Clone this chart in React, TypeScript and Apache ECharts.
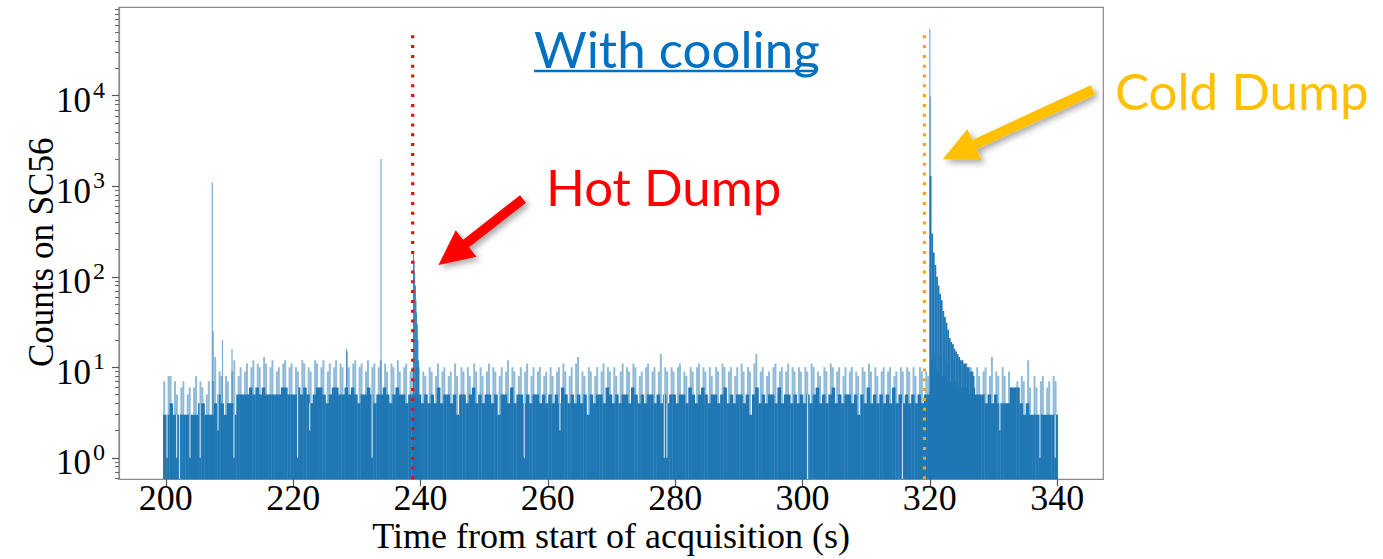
import React, { useEffect, useRef } from "react";
import * as echarts from "echarts";

// ---------- data ----------
// Background histogram, summarised in 0.5 s windows starting at T0:
// lo = level of the solid (dense) fill, hi = top of the thin light fringe (counts)
const T0 = 199.6;
const STEP = 0.5;

const lo200 = [3,3,4,3,3,3,3,3,3,3, 3,4,4,3,3,3,4,5,4,3, 4,4,3,5,5,5,5,6,5,6, 5,6,5,5,5,5,5,6,6,5];
const hi200 = [7,8,8,7,5,6,7,5,6,6, 8,7,6,5,7,7,13,9,8,8, 7,9,12,8,10,9,11,10,12,11, 10,13,11,10,12,9,10,11,12,10];
const lo220 = [5,5,6,5,6,5,4,5,6,6, 5,4,5,6,6,5,5,6,5,6, 5,4,5,5,6,5,4,5,5,6, 5,4,5,6,5,5,4,5,5,5];
const hi220 = [11,10,9,12,11,10,9,12,11,10, 12,9,11,10,12,11,10,15,10,11, 12,10,11,9,12,10,11,10,12,11, 9,11,10,12,9,10,11,9,10,10];
const lo240 = [5,4,5,4,5,4,6,4,5,5, 4,5,3,5,5,4,5,6,4,5, 4,5,5,4,5,3,5,5,4,6, 4,5,5,4,5,4,5,5,4,5];
const hi240 = [10,9,8,10,9,8,11,9,10,8, 9,11,8,10,9,10,8,11,9,10, 8,9,11,10,9,8,10,9,12,10, 9,8,10,9,11,8,10,9,10,8];
const lo260 = [4,5,4,5,4,6,5,4,5,4, 5,4,5,3,5,4,5,5,4,6, 5,4,5,4,5,5,4,6,5,4, 5,4,5,5,4,5,4,5,4,5];
const hi260 = [9,10,8,9,10,11,9,8,10,11, 13,9,8,10,9,8,10,9,11,10, 9,10,8,9,11,10,9,11,10,8, 9,10,11,9,10,9,14,10,9,10];
const lo280 = [5,4,5,5,4,6,5,4,5,6, 5,4,5,5,4,5,6,4,5,4, 5,5,4,5,3,5,6,4,5,4, 5,5,4,6,4,5,5,4,5,4];
const hi280 = [9,10,11,9,8,10,9,10,11,10, 9,10,8,10,9,11,10,9,10,8, 10,11,9,10,9,11,14,9,10,8, 9,10,11,9,10,9,11,10,9,10];
const lo300 = [5,4,5,4,5,6,4,5,4,5, 6,4,5,4,5,5,4,5,3,5, 4,6,4,5,4,5,4,5,4,6, 4,5,4,5,4,5,4,5,4,5];
const hi300 = [9,10,9,11,10,9,8,10,9,11, 10,9,10,8,10,9,10,9,8,10, 9,11,9,10,8,9,10,9,10,8, 9,10,9,10,9,10,8,10,9,9];
const lo320 = [5,12,10,9,8,8,7,7,7,6, 6,6,6,5,6,5,5,5,4,5, 4,5,4,4,4,4,6,6,6,4, 3,4,3,3,3,3,3,3,3,3,3];
const hi320 = [8,15,14,13,12,12,11,11,12,12, 11,10,11,10,9,10,8,9,10,8, 13,9,8,10,8,9,6,6,7,8, 7,12,6,8,6,7,8,6,7,8,7];

// Hot dump (0.1 s bins) and cold dump (0.25 s bins)
const HOT_START = 238.85;
const HOT_BIN = 0.1;
const hotDump = [180, 150, 110, 80, 55, 40, 30, 20, 12];
const COLD_START = 320.0;
const COLD_BIN = 0.25;
const coldDump = [1300, 300, 185, 135, 100, 80, 65, 55, 42, 36, 31, 26, 21, 19, 18, 16, 15, 14, 13, 12, 12, 11, 11, 10, 10, 9, 9, 8];

// isolated single-bin spikes [time, counts]
const spikeTimes = [207.3, 207.45, 208.9, 210.4, 228.4, 233.8, 320.0, 320.06];
const spikeCounts = [1100, 25, 20, 16, 16, 2000, 55000, 9800];

// near-empty bins inside the dense fill [time, counts]
const dipTimes = [200.2, 201.7, 202.15, 203.8, 205.4, 208.2, 210.7, 220.7, 222.6, 232.4, 256.3, 261.9, 278.3, 278.7, 300.8, 315.7, 331.0, 337.3, 339.7];
const dipCounts = [1, 1, 0, 1, 1, 2, 1, 1, 2, 1, 1, 2, 1, 1, 0, 0, 2, 1, 1];

// dump markers
const HOT_T = 238.78;
const COLD_T = 319.15;

// axes
const X_TICKS = [200, 220, 240, 260, 280, 300, 320, 340];
const Y_DECADES = [0, 1, 2, 3, 4];
const Y_MINOR_COUNTS = [0.6, 0.7, 0.8, 0.9,
  2, 3, 4, 5, 6, 7, 8, 9,
  20, 30, 40, 50, 60, 70, 80, 90,
  200, 300, 400, 500, 600, 700, 800, 900,
  2000, 3000, 4000, 5000, 6000, 7000, 8000, 9000,
  20000, 30000, 40000, 50000, 60000, 70000, 80000, 90000];
const X_MIN = 192.65;
const X_MAX = 347.25;
const Y_MIN = -0.237; // log10 of counts
const Y_MAX = 4.977;

// ---------- helpers ----------
const DARK = "#1f77b4";
const LIGHT = "rgba(31,119,180,0.5)";
const lg = (c: number) => Math.log10(c);

const loAll = [...lo200, ...lo220, ...lo240, ...lo260, ...lo280, ...lo300, ...lo320];
const hiAll = [...hi200, ...hi220, ...hi240, ...hi260, ...hi280, ...hi300, ...hi320];
const windows = loAll.map((lo, i) => [T0 + i * STEP, lo, hiAll[i]]);
const loAt = (t: number) => loAll[Math.max(0, Math.min(loAll.length - 1, Math.floor((t - T0) / STEP)))];

const hotBins = hotDump.map((c, i) => [HOT_START + i * HOT_BIN, c, HOT_BIN]);
const coldBins = coldDump.map((c, i) => [COLD_START + i * COLD_BIN, c, COLD_BIN]);
const spikes = spikeTimes.map((t, i) => [t, spikeCounts[i]]);
const dips = dipTimes.map((t, i) => [t, dipCounts[i], loAt(t)]);

function arrowPoints(tail: number[], tip: number[], shaftHalf: number, headHalf: number, headLen: number) {
  const dx = tip[0] - tail[0], dy = tip[1] - tail[1];
  const len = Math.hypot(dx, dy);
  const ux = dx / len, uy = dy / len;
  const nx = -uy, ny = ux;
  const bx = tip[0] - ux * headLen, by = tip[1] - uy * headLen;
  return [
    [tail[0] + nx * shaftHalf, tail[1] + ny * shaftHalf],
    [bx + nx * shaftHalf, by + ny * shaftHalf],
    [bx + nx * headHalf, by + ny * headHalf],
    [tip[0], tip[1]],
    [bx - nx * headHalf, by - ny * headHalf],
    [bx - nx * shaftHalf, by - ny * shaftHalf],
    [tail[0] - nx * shaftHalf, tail[1] - ny * shaftHalf],
  ];
}

const SERIF = "'Liberation Serif', 'Times New Roman', serif";
const SANS = "Lato, 'Open Sans', sans-serif";

export default function App() {
  const ref = useRef<HTMLDivElement>(null);

  useEffect(() => {
    if (!ref.current) return;
    const chart = echarts.init(ref.current, undefined, { renderer: "svg" });
    const yTop = Y_MIN + 0.95 * (Y_MAX - Y_MIN);

    const option: any = {
      animation: false,
      grid: {
        left: 119, right: 279.7, top: 7.3, bottom: 79.7,
        outerBoundsMode: "none", containLabel: false,
        show: true, borderColor: "#8a8a8a", borderWidth: 1.2,
      },
      xAxis: {
        type: "value", min: X_MIN, max: X_MAX,
        splitLine: { show: false },
        axisLine: { show: true, onZero: false, lineStyle: { color: "#8a8a8a", width: 1.2 } },
        axisTick: { show: true, customValues: X_TICKS, length: 7, lineStyle: { color: "#555", width: 1.2 } },
        axisLabel: { customValues: X_TICKS, fontFamily: SERIF, fontSize: 36, color: "#000", margin: 1 },
        name: "Time from start of acquisition (s)",
        nameLocation: "middle", nameGap: 39, nameMoveOverlap: false,
        nameTextStyle: { fontFamily: SERIF, fontSize: 36, color: "#000" },
      },
      yAxis: [
        {
          type: "value", min: Y_MIN, max: Y_MAX,
          splitLine: { show: false },
          axisLine: { show: true, onZero: false, lineStyle: { color: "#8a8a8a", width: 1.2 } },
          axisTick: { show: true, customValues: Y_DECADES, length: 7, lineStyle: { color: "#555", width: 1.2 } },
          axisLabel: {
            customValues: Y_DECADES, margin: 14, padding: [10, 0, 0, 0],
            formatter: (v: number) => `{b|10}{s|${Math.round(v)}}`,
            rich: {
              b: { fontFamily: SERIF, fontSize: 35, color: "#000", lineHeight: 46 },
              s: { fontFamily: SERIF, fontSize: 24, color: "#000", lineHeight: 24, verticalAlign: "top", padding: [0, 0, 0, 2] },
            },
          },
          name: "Counts on SC56",
          nameLocation: "middle", nameGap: 60, nameRotate: 90, nameMoveOverlap: false,
          nameTextStyle: { fontFamily: SERIF, fontSize: 35, color: "#000", padding: [0, 18, 0, 0] },
        },
        {
          type: "value", min: Y_MIN, max: Y_MAX, position: "left",
          splitLine: { show: false },
          axisLine: { show: false, onZero: false },
          axisLabel: { show: false },
          axisTick: { show: true, customValues: Y_MINOR_COUNTS.map(lg), length: 4, lineStyle: { color: "#666", width: 1 } },
        },
      ],
      series: [
        {
          type: "custom", clip: true, z: 2,
          data: windows,
          encode: { x: 0, y: 1 },
          renderItem: (p: any, api: any) => {
            const t = api.value(0), lo = api.value(1), hi = api.value(2);
            const pB = api.coord([t, Y_MIN]);
            const pE = api.coord([t + STEP, Y_MIN]);
            const yLo = api.coord([t, lg(lo)])[1];
            const yHi = api.coord([t, lg(hi)])[1];
            const w = pE[0] - pB[0];
            const lw = w * 0.62;
            const lx = p.dataIndex % 2 === 0 ? pB[0] : pB[0] + w - lw;
            return {
              type: "group",
              children: [
                { type: "rect", shape: { x: lx, y: yHi, width: lw, height: yLo - yHi + 0.5 }, style: { fill: LIGHT } },
                { type: "rect", shape: { x: pB[0] - 0.2, y: yLo, width: w + 0.4, height: pB[1] - yLo }, style: { fill: DARK } },
              ],
            };
          },
        },
        {
          type: "custom", clip: true, z: 3,
          data: dips,
          encode: { x: 0, y: 1 },
          renderItem: (_p: any, api: any) => {
            const t = api.value(0), c = api.value(1), lo = api.value(2);
            const base = api.coord([t, Y_MIN]);
            const yC = c > 0 ? api.coord([t, lg(c)])[1] : base[1];
            const yLo = api.coord([t, lg(lo)])[1];
            return { type: "rect", shape: { x: base[0] - 0.6, y: yLo, width: 1.2, height: yC - yLo }, style: { fill: "rgba(255,255,255,0.75)" } };
          },
        },
        ...[hotBins, coldBins].map((bins) => ({
          type: "custom", clip: true, z: 4,
          data: bins,
          encode: { x: 0, y: 1 },
          renderItem: (_p: any, api: any) => {
            const t = api.value(0), c = api.value(1), bw = api.value(2);
            const pB = api.coord([t, Y_MIN]);
            const pE = api.coord([t + bw, Y_MIN]);
            const yC = api.coord([t, lg(c)])[1];
            return { type: "rect", shape: { x: pB[0] - 0.1, y: yC, width: pE[0] - pB[0] + 0.2, height: pB[1] - yC }, style: { fill: DARK } };
          },
        })),
        {
          type: "custom", clip: true, z: 5,
          data: spikes,
          encode: { x: 0, y: 1 },
          renderItem: (_p: any, api: any) => {
            const t = api.value(0), c = api.value(1);
            const pB = api.coord([t, Y_MIN]);
            const yC = api.coord([t, lg(c)])[1];
            return { type: "rect", shape: { x: pB[0] - 0.6, y: yC, width: 1.2, height: pB[1] - yC }, style: { fill: "rgba(31,119,180,0.6)" } };
          },
        },
        {
          type: "line", z: 6, symbol: "none", silent: true,
          data: [[HOT_T, Y_MIN], [HOT_T, yTop]],
          lineStyle: { color: "#ff0000", width: 3.2, type: [3, 6.8] },
        },
        {
          type: "line", z: 6, symbol: "none", silent: true,
          data: [[COLD_T, Y_MIN], [COLD_T, yTop]],
          lineStyle: { color: "#ffa500", width: 3.2, type: [3, 6.8] },
        },
      ],
      graphic: [
        {
          type: "polygon", z: 20,
          shape: { points: arrowPoints([523, 199], [438.5, 265], 4.8, 16.8, 35) },
          style: { fill: "#ff0000", shadowBlur: 6, shadowColor: "rgba(0,0,0,0.35)", shadowOffsetX: 3, shadowOffsetY: 3 },
        },
        {
          type: "polygon", z: 20,
          shape: { points: arrowPoints([1093, 90], [942.7, 159.3], 5.2, 17, 35) },
          style: { fill: "#ffc000", shadowBlur: 6, shadowColor: "rgba(0,0,0,0.35)", shadowOffsetX: 3, shadowOffsetY: 3 },
        },
        {
          type: "text", z: 20, x: 534, y: 48,
          style: { text: "With cooling", fill: "#0070c0", fontFamily: SANS, fontSize: 51, verticalAlign: "middle", align: "left" },
        },
        {
          type: "line", z: 20,
          shape: { x1: 534, y1: 71, x2: 815, y2: 71 },
          style: { stroke: "#0070c0", lineWidth: 2.5 },
        },
        {
          type: "text", z: 20, x: 546, y: 186,
          style: { text: "Hot Dump", fill: "#ff0000", fontFamily: SANS, fontSize: 51, verticalAlign: "middle", align: "left" },
        },
        {
          type: "text", z: 20, x: 1115, y: 90,
          style: { text: "Cold Dump", fill: "#ffc000", fontFamily: SANS, fontSize: 51, verticalAlign: "middle", align: "left" },
        },
      ],
    };

    chart.setOption(option);
    return () => chart.dispose();
  }, []);

  return (
    <div
      ref={ref}
      style={{ position: "absolute", left: 0, top: 0, width: 1383, height: 559, background: "#fff" }}
    />
  );
}
